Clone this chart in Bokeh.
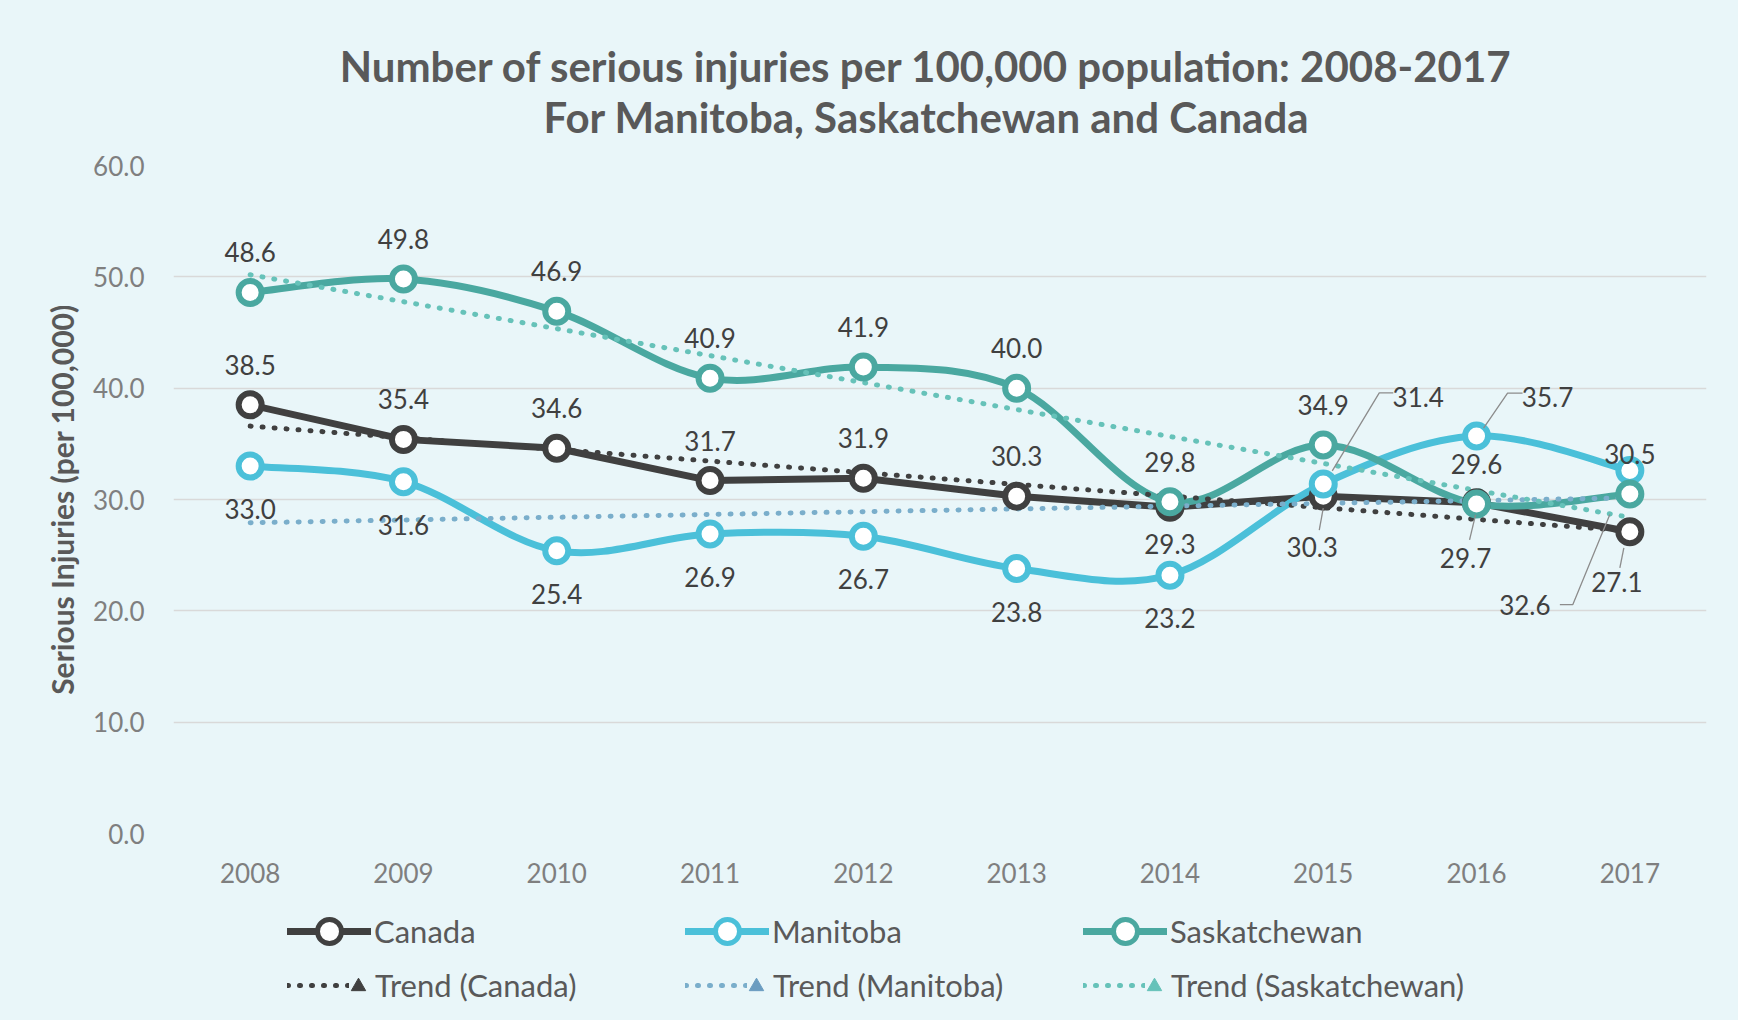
import numpy as np
from bokeh.plotting import figure
from bokeh.layouts import column
from bokeh.models import ColumnDataSource, Legend, LegendItem, Range1d, FixedTicker, CustomJSTickFormatter, Label
from bokeh.core.properties import value
from bokeh.embed import file_html
from bokeh.resources import INLINE

# ---------------- data ----------------
years = [2008, 2009, 2010, 2011, 2012, 2013, 2014, 2015, 2016, 2017]
canada = [38.5, 35.4, 34.6, 31.7, 31.9, 30.3, 29.3, 30.3, 29.7, 27.1]
manitoba = [33.0, 31.6, 25.4, 26.9, 26.7, 23.8, 23.2, 31.4, 35.7, 32.6]
saskatchewan = [48.6, 49.8, 46.9, 40.9, 41.9, 40.0, 29.8, 34.9, 29.6, 30.5]
y_ticks = [0, 10, 20, 30, 40, 50, 60]
series_names = ["Canada", "Manitoba", "Saskatchewan"]
title_lines = ["Number of serious injuries per 100,000 population: 2008-2017",
               "For Manitoba, Saskatchewan and Canada"]

# ---------------- style ----------------
FONT = "Lato"
BG = "#e9f6f9"
C_CAN = "#404040"
C_MAN = "#4bc0d9"
C_SAS = "#4aa8a0"
T_CAN = "#404040"
T_MAN = "#7aaecb"
T_SAS = "#66c2b9"
TXT = "#404040"

FRAME_W, FRAME_H = 1533, 668
LEFT, RIGHT = 173, 32
W = LEFT + FRAME_W + RIGHT
H_HEAD, H_MAIN, H_LEG = 150, 755, 115
X0, X1 = 2007.5, 2017.5
PX_X = FRAME_W / (X1 - X0)
PX_Y = FRAME_H / 60.0


def strip(height):
    f = figure(width=W, height=height, x_range=Range1d(0, FRAME_W), y_range=Range1d(0, height),
               output_backend="svg", toolbar_location=None,
               x_axis_location=None, y_axis_location=None,
               min_border_left=LEFT, min_border_right=RIGHT, min_border_top=0, min_border_bottom=0)
    f.background_fill_color = BG
    f.border_fill_color = BG
    f.outline_line_color = None
    f.grid.visible = False
    return f


# ---------------- header (title) ----------------
ph = strip(H_HEAD)
for txt, yy in zip(title_lines, (85, 34)):
    ph.add_layout(Label(x=753, y=yy, text=txt, text_align="center", text_baseline="middle",
                        text_font=FONT, text_font_size="42px", text_font_style="bold",
                        text_color="#595959"))

# ---------------- main chart ----------------
p = figure(width=W, height=H_MAIN, x_range=Range1d(X0, X1), y_range=Range1d(0, 60),
           output_backend="svg", toolbar_location=None,
           min_border_left=LEFT, min_border_right=RIGHT,
           min_border_top=15, min_border_bottom=H_MAIN - 15 - FRAME_H)
p.background_fill_color = BG
p.border_fill_color = BG
p.outline_line_color = None

p.xaxis.ticker = FixedTicker(ticks=years)
p.yaxis.ticker = FixedTicker(ticks=y_ticks)
p.yaxis.formatter = CustomJSTickFormatter(code="return tick.toFixed(1);")
for ax in (p.xaxis, p.yaxis):
    ax.axis_line_color = None
    ax.major_tick_line_color = None
    ax.minor_tick_line_color = None
    ax.major_label_text_font = FONT
    ax.major_label_text_font_size = "26px"
    ax.major_label_text_color = "#7f7f7f"
p.yaxis.major_label_standoff = 23
p.xaxis.major_label_standoff = 23
p.yaxis.axis_label = "Serious Injuries (per 100,000)"
p.yaxis.axis_label_text_font = FONT
p.yaxis.axis_label_text_font_size = "30px"
p.yaxis.axis_label_text_font_style = "bold"
p.yaxis.axis_label_text_color = "#595959"
p.yaxis.axis_label_standoff = 10
p.xgrid.grid_line_color = None
p.ygrid.grid_line_color = "#d9d9d9"
p.ygrid.grid_line_width = 1.5


def smooth(xs, ys):
    n = len(xs)
    d = dict(x0=[], y0=[], x1=[], y1=[], cx0=[], cy0=[], cx1=[], cy1=[])
    for i in range(n - 1):
        a = i - 1 if i > 0 else i
        b = i + 2 if i + 2 < n else i + 1
        d["x0"].append(xs[i]); d["y0"].append(ys[i])
        d["x1"].append(xs[i + 1]); d["y1"].append(ys[i + 1])
        d["cx0"].append(xs[i] + (xs[i + 1] - xs[a]) / 6.0)
        d["cy0"].append(ys[i] + (ys[i + 1] - ys[a]) / 6.0)
        d["cx1"].append(xs[i + 1] - (xs[b] - xs[i]) / 6.0)
        d["cy1"].append(ys[i + 1] - (ys[b] - ys[i]) / 6.0)
    return ColumnDataSource(d)


LW = 7
line_style = dict(CAN=dict(line_color=C_CAN, line_width=LW, line_cap="round"),
                  MAN=dict(line_color=C_MAN, line_width=LW, line_cap="round"),
                  SAS=dict(line_color=C_SAS, line_width=LW, line_cap="round"))
pt_style = dict(CAN=dict(size=23, fill_color="white", line_color=C_CAN, line_width=6),
                MAN=dict(size=23, fill_color="white", line_color=C_MAN, line_width=6),
                SAS=dict(size=23, fill_color="white", line_color=C_SAS, line_width=6))
trend_style = dict(CAN=dict(line_color=T_CAN, line_width=5, line_dash="1 11", line_cap="round"),
                   MAN=dict(line_color=T_MAN, line_width=5, line_dash="1 11", line_cap="round"),
                   SAS=dict(line_color=T_SAS, line_width=5, line_dash="1 11", line_cap="round"))

p.line(years, canada, line_join="round", **line_style["CAN"])
p.bezier(x0="x0", y0="y0", x1="x1", y1="y1", cx0="cx0", cy0="cy0", cx1="cx1", cy1="cy1",
         source=smooth(years, manitoba), **line_style["MAN"])
p.bezier(x0="x0", y0="y0", x1="x1", y1="y1", cx0="cx0", cy0="cy0", cx1="cx1", cy1="cy1",
         source=smooth(years, saskatchewan), **line_style["SAS"])

# trend lines (least-squares fit of each series, as in the original)
for vals, key in ((canada, "CAN"), (manitoba, "MAN"), (saskatchewan, "SAS")):
    k, b0 = np.polyfit(years, vals, 1)
    tx = [years[0], years[-1]]
    ty = [k * years[0] + b0, k * years[-1] + b0]
    p.line(tx, ty, **trend_style[key])

p.scatter(years, canada, **pt_style["CAN"])
p.scatter(years, manitoba, **pt_style["MAN"])
p.scatter(years, saskatchewan, **pt_style["SAS"])

# data labels (pixel offsets from the point, screen y down)
off_can = [(0, -40)] * 6 + [(0, 37), (-11, 51), (-11, 55), (-13, 50)]
off_man = [(0, 43)] * 7 + [(95, -87), (71, -39), (-105, 134)]
off_sas = [(0, -40)] * 10
for vals, offs in ((canada, off_can), (manitoba, off_man), (saskatchewan, off_sas)):
    src = ColumnDataSource(dict(x=years, y=vals, t=[f"{v:.1f}" for v in vals],
                                dx=[o[0] for o in offs], dy=[o[1] for o in offs]))
    p.text(x="x", y="y", text="t", x_offset="dx", y_offset="dy", source=src,
           text_font=value(FONT), text_font_size="26px", text_color=TXT,
           text_align="center", text_baseline="middle")

# leader lines: (series, index, pixel offsets)
leaders = [
    (manitoba, 7, [(70, -91), (56, -91), (9, -13)]),
    (manitoba, 8, [(46, -43), (31, -43), (7, -8)]),
    (manitoba, 9, [(-70, 134), (-57, 134), (-20, 44)]),
    (canada, 7, [(-4, 34), (0, 12)]),
    (canada, 8, [(-7, 37), (-1, 12)]),
    (canada, 9, [(-10, 36), (-6, 16)]),
]
lxs, lys = [], []
for vals, i, pts in leaders:
    lxs.append([years[i] + dx / PX_X for dx, dy in pts])
    lys.append([vals[i] - dy / PX_Y for dx, dy in pts])
p.multi_line(lxs, lys, line_color="#8c8c8c", line_width=1.3)

# ---------------- legend strip ----------------
pl = strip(H_LEG)
far = dict(x=[-50, -40], y=[-50, -40])
items1, items2, items3 = [], [], []
tri_col = {"CAN": T_CAN, "MAN": "#6a9cc0", "SAS": T_SAS}
for name, key in zip(series_names, ("CAN", "MAN", "SAS")):
    rl = pl.line(far["x"], far["y"], **line_style[key])
    sty = dict(pt_style[key]); sty["size"] = 17; sty["line_width"] = 5
    rp = pl.scatter(far["x"], far["y"], **sty)
    rt = pl.line(far["x"], far["y"], **trend_style[key])
    ra = pl.scatter(far["x"], far["y"], marker="triangle", size=12, angle=-np.pi / 2,
                    fill_color=tri_col[key], line_color=tri_col[key], line_width=1)
    items1.append(LegendItem(label=name, renderers=[rl, rp]))
    items2.append(LegendItem(label=f"Trend ({name})", renderers=[rt]))
    items3.append(LegendItem(label=" ", renderers=[ra]))

base = dict(orientation="horizontal", padding=0, spacing=0, margin=0,
            label_text_font=FONT, label_text_font_size="31px", label_text_color="#595959",
            border_line_color=None, background_fill_alpha=0)
leg1 = Legend(items=items1, location=(114, 59), glyph_height=60, label_height=60,
              glyph_width=84, label_width=311, label_standoff=3, **base)
leg2 = Legend(items=items2, location=(114, 16), glyph_height=30, label_height=30,
              glyph_width=62, label_width=310, label_standoff=26, **base)
leg3 = Legend(items=items3, location=(167, 16), glyph_height=36, label_height=30,
              glyph_width=36, label_width=362, label_standoff=0, **base)
pl.add_layout(leg1)
pl.add_layout(leg2)
pl.add_layout(leg3)

layout = column(ph, p, pl, spacing=0, styles={"background-color": BG})
open("out.html", "w").write(file_html(layout, INLINE))
